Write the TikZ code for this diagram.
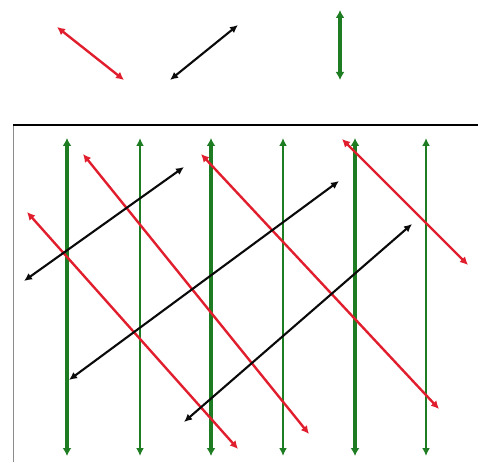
\documentclass[tikz,border=0pt]{standalone}
\usetikzlibrary{arrows.meta}
\definecolor{rd}{RGB}{225,30,45}
\definecolor{gr}{RGB}{30,125,35}
\definecolor{bk}{RGB}{10,10,10}
\tikzset{
  redarrow/.style={draw=rd,line width=2.4pt,{Latex[length=8pt,width=8pt]}-{Latex[length=8pt,width=8pt]}},
  blackarrow/.style={draw=bk,line width=2.1pt,{Latex[length=8pt,width=7.5pt]}-{Latex[length=8pt,width=7.5pt]}},
  greenthick/.style={draw=gr,line width=4.4pt,{Latex[length=8pt,width=9pt]}-{Latex[length=8pt,width=9pt]}},
  greenthin/.style={draw=gr,line width=2.8pt,{Latex[length=8pt,width=8pt]}-{Latex[length=8pt,width=8pt]}},
}
\begin{document}
\begin{tikzpicture}[x=1pt,y=-1pt]
\useasboundingbox (0,0) rectangle (478,462);
% legend
\coordinate (lr1) at (57,27); \coordinate (lr2) at (124,80);
\coordinate (lb1) at (170,80); \coordinate (lb2) at (238,25);
\coordinate (lg1) at (340,10); \coordinate (lg2) at (340,80);
\draw[redarrow] (lr1) -- (lr2);
\draw[blackarrow] (lb1) -- (lb2);
\draw[greenthick,line width=3.8pt] (lg1) -- (lg2);
% frame
\coordinate (fl) at (13,125); \coordinate (fr) at (478,125); \coordinate (fb) at (13,462);
\draw[black!45,line width=1pt] (fl) -- (fb);
\draw[black,line width=2pt] (fl) -- (fr);
% green verticals
\foreach \x/\s in {67/greenthick,140/greenthin,211/greenthick,283/greenthin,355/greenthick,426/greenthin}{
  \coordinate (gt\x) at (\x,138); \coordinate (gb\x) at (\x,456);
  \draw[\s] (gt\x) -- (gb\x);
}
% red diagonals
\coordinate (r1a) at (27,212); \coordinate (r1b) at (238,449);
\coordinate (r2a) at (83,154); \coordinate (r2b) at (309,434);
\coordinate (r3a) at (201,154); \coordinate (r3b) at (439,409);
\coordinate (r4a) at (342,139); \coordinate (r4b) at (468,265);
\foreach \i in {1,2,3,4}{\draw[redarrow] (r\i a) -- (r\i b);}
% black diagonals
\coordinate (b1a) at (24,281); \coordinate (b1b) at (184,167);
\coordinate (b2a) at (69,380); \coordinate (b2b) at (339,181);
\coordinate (b3a) at (184,422); \coordinate (b3b) at (412,224);
\foreach \i in {1,2,3}{\draw[blackarrow] (b\i a) -- (b\i b);}
\end{tikzpicture}
\end{document}
